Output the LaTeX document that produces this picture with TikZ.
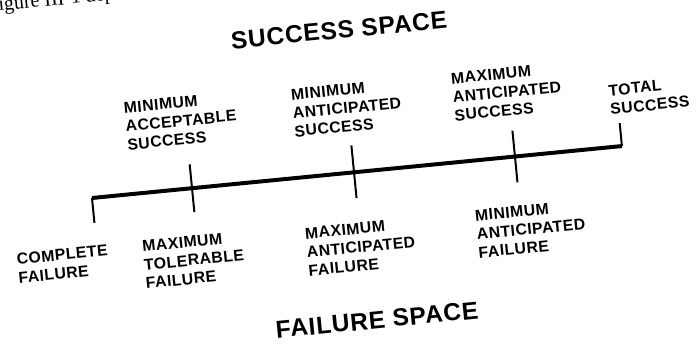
\documentclass[tikz,border=0pt]{standalone}
\usepackage{fontspec}
\setmainfont{Liberation Serif}
\newfontfamily\lblfont[LetterSpace=3]{Liberation Sans}
\newfontfamily\ttlfont[LetterSpace=3]{Liberation Sans}
\usepackage{tikz}
\usetikzlibrary{positioning}

\begin{document}
\begin{tikzpicture}[
  x=0.03cm, y=-0.03cm,
  lbl/.style={rotate=5.6, align=left, inner sep=0pt, font=\lblfont\bfseries\fontsize{13.5}{15.8}\selectfont},
  ttl/.style={rotate=5.6, inner sep=0pt, font=\ttlfont\bfseries\fontsize{21}{24}\selectfont},
  frag/.style={rotate=5.6, inner sep=0pt, font=\fontsize{17}{20}\selectfont},
  axis/.style={line width=3.4pt},
  tick/.style={line width=1.7pt}
]
\useasboundingbox (0,0) rectangle (697,347);
\clip (0,0) rectangle (697,347);
\node[frag, anchor=base west] (fig) at (-1,11) {igure III-1 dep};
% scale line
\begin{scope}[shift={(92,198)}, rotate=5.6]
\coordinate (L) at (0,0);
\coordinate (Ld) at (0,25);
\coordinate (R) at (532.5,0);
\coordinate (Ru) at (532.5,-23);
\coordinate (t1u) at (100.5,-24);
\coordinate (t1d) at (100.5,24);
\coordinate (t2u) at (263.3,-27);
\coordinate (t2d) at (263.3,26);
\coordinate (t3u) at (425,-26);
\coordinate (t3d) at (425,26);
\end{scope}
\draw[axis] (L) -- (R);
\draw[tick] (L) -- (Ld);
\draw[tick] (R) -- (Ru);
\draw[tick] (t1u) -- (t1d);
\draw[tick] (t2u) -- (t2d);
\draw[tick] (t3u) -- (t3d);
% labels
\node[ttl] (succ) at (339,30) {SUCCESS SPACE};
\node[lbl] (minacc) at (181,121) {MINIMUM\\ACCEPTABLE\\SUCCESS};
\node[lbl] (minant) at (347,108) {MINIMUM\\ANTICIPATED\\SUCCESS};
\node[lbl] (maxant) at (507,92) {MAXIMUM\\ANTICIPATED\\SUCCESS};
\node[lbl] (total) at (649,96) {TOTAL\\SUCCESS};
\node[lbl] (complete) at (63,264) {COMPLETE\\FAILURE};
\node[lbl] (maxtol) at (194,260) {MAXIMUM\\TOLERABLE\\FAILURE};
\node[lbl] (maxantf) at (361,247) {MAXIMUM\\ANTICIPATED\\FAILURE};
\node[lbl] (minantf) at (531,229) {MINIMUM\\ANTICIPATED\\FAILURE};
\node[ttl] (fail) at (377,320) {FAILURE SPACE};
\end{tikzpicture}
\end{document}
